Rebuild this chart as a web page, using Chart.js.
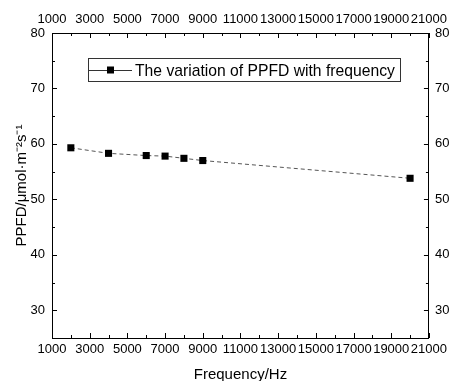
<!DOCTYPE html>
<html>
<head>
<meta charset="utf-8">
<script src="https://cdn.jsdelivr.net/npm/chart.js@4/dist/chart.umd.min.js"></script>
<style>
  html, body { margin: 0; padding: 0; background: #fff; overflow: hidden; }
  #wrap { width: 453px; height: 381px; }
  canvas { display: block; }
</style>
</head>
<body>
<div id="wrap"><canvas id="myChart" width="453" height="381"></canvas></div>
<script>
const frequency = [2000, 4000, 6000, 7000, 8000, 9000, 20000];
const ppfd = [59.3, 58.3, 57.9, 57.8, 57.4, 57.0, 53.8];
const xTicks = [1000, 3000, 5000, 7000, 9000, 11000, 13000, 15000, 17000, 19000, 21000];
const yTicks = [30, 40, 50, 60, 70, 80];
const seriesLabel = 'The variation of PPFD with frequency';

const FONT = 'Liberation Sans, Arial, sans-serif';

// ticks drawn inward, major + minor at midpoints
const innerTicks = {
  id: 'innerTicks',
  afterDraw(chart) {
    const ctx = chart.ctx;
    const a = chart.chartArea;
    const xs = chart.scales.x, ys = chart.scales.y;
    ctx.save();
    ctx.strokeStyle = '#000';
    ctx.lineWidth = 1;
    ctx.beginPath();
    xTicks.forEach((v, i) => {
      const px = Math.round(xs.getPixelForValue(v)) + 0.5;
      ctx.moveTo(px, a.bottom); ctx.lineTo(px, a.bottom - 5);
      ctx.moveTo(px, a.top); ctx.lineTo(px, a.top + 5);
      if (i < xTicks.length - 1) {
        const mx = Math.round(xs.getPixelForValue(v + 1000)) + 0.5;
        ctx.moveTo(mx, a.bottom); ctx.lineTo(mx, a.bottom - 3);
        ctx.moveTo(mx, a.top); ctx.lineTo(mx, a.top + 3);
      }
    });
    yTicks.forEach(v => {
      const py = Math.round(ys.getPixelForValue(v)) + 0.5;
      ctx.moveTo(a.left, py); ctx.lineTo(a.left + 5, py);
      ctx.moveTo(a.right, py); ctx.lineTo(a.right - 5, py);
      const my = Math.round(ys.getPixelForValue(v - 5)) + 0.5;
      ctx.moveTo(a.left, my); ctx.lineTo(a.left + 3, my);
      ctx.moveTo(a.right, my); ctx.lineTo(a.right - 3, my);
    });
    ctx.stroke();

    // legend box inside plot
    const bx = Math.round(a.left) + 36, by = Math.round(a.top) + 25, bw = 312, bh = 23;
    ctx.fillStyle = '#fff';
    ctx.fillRect(bx, by, bw, bh);
    ctx.strokeStyle = '#333';
    ctx.strokeRect(bx + 0.5, by + 0.5, bw, bh);
    const cy = by + Math.round(bh / 2) + 0.5;
    ctx.beginPath();
    ctx.moveTo(bx + 1, cy); ctx.lineTo(bx + 44, cy);
    ctx.stroke();
    ctx.fillStyle = '#000';
    ctx.fillRect(bx + 19, cy - 4, 7, 7);
    ctx.font = '15.7px ' + FONT;
    ctx.textBaseline = 'middle';
    ctx.fillText(chart.data.datasets[0].label, bx + 47, cy + 1);
    ctx.restore();
  }
};

const tickFont = { family: FONT, size: 13 };
const titleFont = { family: FONT, size: 15 };

const config = {
  type: 'line',
  data: {
    datasets: [{
      label: seriesLabel,
      data: frequency.map((f, i) => ({ x: f, y: ppfd[i] })),
      borderColor: '#555',
      borderWidth: 1,
      borderDash: [4, 3],
      pointStyle: 'rect',
      pointRadius: 5,
      pointBackgroundColor: '#000',
      pointBorderColor: '#000',
      pointBorderWidth: 0,
      tension: 0
    }]
  },
  options: {
    responsive: false,
    animation: false,
    layout: { padding: 0 },
    plugins: {
      legend: { display: false },
      tooltip: { enabled: false }
    },
    scales: {
      x: {
        type: 'linear', position: 'bottom', min: 1000, max: 21000,
        afterBuildTicks: s => { s.ticks = xTicks.map(v => ({ value: v })); },
        afterFit: s => { s.height = 43; },
        grid: { display: false, drawTicks: false },
        border: { display: true, color: '#000', width: 1 },
        ticks: { font: tickFont, color: '#000', padding: 4, maxRotation: 0, autoSkip: false, callback: v => String(v) },
        title: { display: true, text: 'Frequency/Hz', font: titleFont, color: '#000', padding: { top: 5, bottom: -3 } }
      },
      x2: {
        type: 'linear', position: 'top', min: 1000, max: 21000,
        afterBuildTicks: s => { s.ticks = xTicks.map(v => ({ value: v })); },
        afterFit: s => { s.height = 33; },
        grid: { display: false, drawTicks: false },
        border: { display: true, color: '#000', width: 1 },
        ticks: { font: tickFont, color: '#000', padding: 6, maxRotation: 0, autoSkip: false, callback: v => String(v) }
      },
      y: {
        type: 'linear', position: 'left', min: 25, max: 80,
        afterBuildTicks: s => { s.ticks = yTicks.map(v => ({ value: v })); },
        afterFit: s => { s.width = 52; },
        grid: { display: false, drawTicks: false },
        border: { display: true, color: '#000', width: 1 },
        ticks: { font: tickFont, color: '#000', padding: 7 },
        title: { display: true, text: 'PPFD/μmol·m⁻²s⁻¹', font: titleFont, color: '#000', padding: { top: 13, bottom: 2 } }
      },
      y2: {
        type: 'linear', position: 'right', min: 25, max: 80,
        afterBuildTicks: s => { s.ticks = yTicks.map(v => ({ value: v })); },
        afterFit: s => { s.width = 20; },
        grid: { display: false, drawTicks: false },
        border: { display: true, color: '#000', width: 1 },
        ticks: { font: tickFont, color: '#000', padding: 6 }
      }
    }
  },
  plugins: [innerTicks]
};

var ctx = document.getElementById('myChart').getContext('2d');
var chart = new Chart(ctx, config);
</script>
</body>
</html>
